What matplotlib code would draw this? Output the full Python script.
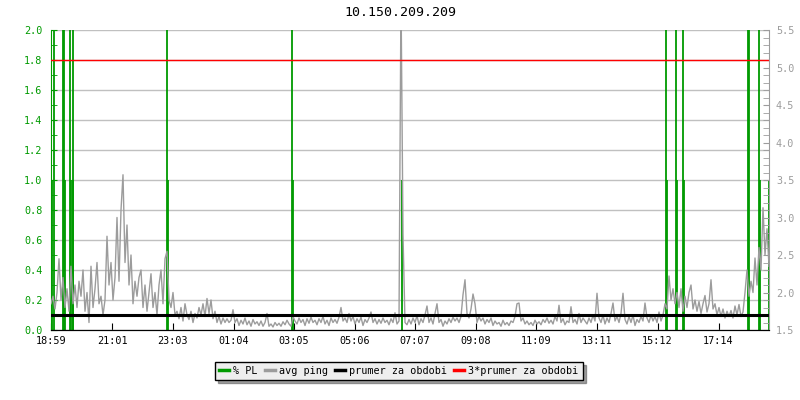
import numpy as np
import matplotlib
matplotlib.use('Agg')
import matplotlib.pyplot as plt
from matplotlib.lines import Line2D

plt.rcParams['font.family'] = ['DejaVu Sans Mono']

title = '10.150.209.209'
tick_labels = ['18:59', '21:01', '23:03', '01:04', '03:05', '05:06',
               '07:07', '09:08', '11:09', '13:11', '15:12', '17:14']
step = 4          # minutes between ping samples
span = 1436       # minutes shown
# avg ping [ms], one value every 4 minutes from 18:59
ping = [1.85, 1.95, 1.78, 2.0, 2.45, 1.9, 2.2, 1.8, 2.05, 1.75,
        2.35, 1.85, 2.1, 1.8, 2.15, 1.95, 2.3, 1.75, 2.0, 1.6,
        2.35, 1.8, 2.05, 2.4, 1.85, 1.95, 1.7, 1.9, 2.75, 2.1,
        2.4, 1.9, 2.2, 3.0, 2.15, 3.1, 3.57, 2.4, 2.9, 2.1,
        2.5, 1.85, 2.15, 1.95, 2.2, 2.3, 1.8, 2.1, 1.75, 2.0,
        2.25, 1.8, 2.0, 1.7, 2.1, 2.3, 1.85, 2.45, 2.55, 1.9,
        1.8, 2.0, 1.7, 1.75, 1.65, 1.8, 1.62, 1.85, 1.7, 1.64,
        1.75, 1.6, 1.72, 1.66, 1.8, 1.7, 1.85, 1.68, 1.92, 1.72,
        1.9, 1.65, 1.75, 1.6, 1.68, 1.58, 1.66, 1.6, 1.65, 1.6,
        1.63, 1.77, 1.6, 1.65, 1.56, 1.63, 1.58, 1.66, 1.57, 1.62,
        1.55, 1.64, 1.58, 1.61, 1.56, 1.62, 1.55, 1.6, 1.72, 1.55,
        1.58, 1.54, 1.6, 1.56, 1.59, 1.55, 1.61, 1.57, 1.63, 1.58,
        1.55, 1.68, 1.62, 1.58, 1.66, 1.6, 1.64, 1.56, 1.65, 1.59,
        1.67, 1.6, 1.63, 1.57, 1.65, 1.6, 1.68, 1.58, 1.63, 1.56,
        1.66, 1.6, 1.64, 1.59, 1.67, 1.8, 1.62, 1.66, 1.6, 1.72,
        1.62, 1.68, 1.58, 1.65, 1.6, 1.67, 1.56, 1.64, 1.6, 1.66,
        1.74, 1.6, 1.65, 1.58, 1.64, 1.59, 1.66, 1.6, 1.63, 1.57,
        1.65, 1.6, 1.73, 1.58, 1.62, 6.0, 2.77, 1.6, 1.57, 1.64,
        1.58, 1.66, 1.6, 1.69, 1.57, 1.65, 1.6, 1.7, 1.82, 1.6,
        1.66, 1.58, 1.72, 1.85, 1.6, 1.64, 1.55, 1.62, 1.58, 1.65,
        1.6, 1.67, 1.62, 1.66, 1.6, 1.68, 1.97, 2.17, 1.72, 1.66,
        1.78, 1.98, 1.85, 1.6, 1.68, 1.62, 1.66, 1.58, 1.64, 1.6,
        1.66, 1.56, 1.62, 1.58, 1.6, 1.55, 1.63, 1.57, 1.6, 1.56,
        1.62, 1.6, 1.68, 1.85, 1.86, 1.62, 1.66, 1.58, 1.62, 1.57,
        1.6, 1.56, 1.63, 1.58, 1.61, 1.57, 1.64, 1.6, 1.66, 1.59,
        1.63, 1.58, 1.68, 1.62, 1.83, 1.6, 1.65, 1.57, 1.62, 1.6,
        1.81, 1.6, 1.64, 1.58, 1.72, 1.6, 1.66, 1.62, 1.58, 1.66,
        1.6, 1.7, 1.62, 1.99, 1.66, 1.6, 1.7, 1.58, 1.66, 1.6,
        1.72, 1.86, 1.62, 1.68, 1.6, 1.72, 1.99, 1.64, 1.58, 1.68,
        1.6, 1.7, 1.56, 1.64, 1.6, 1.68, 1.62, 1.86, 1.66, 1.6,
        1.7, 1.62, 1.68, 1.6, 1.74, 1.62, 1.7, 1.85, 1.78, 2.22,
        1.9, 2.05, 1.85, 2.0, 1.8, 2.05, 1.75, 1.95, 1.8, 2.0,
        2.1, 1.78, 1.9, 1.75, 1.88, 1.72, 1.85, 1.96, 1.74, 1.85,
        2.17, 1.78, 1.85, 1.7, 1.8, 1.68, 1.78, 1.66, 1.75, 1.68,
        1.76, 1.66, 1.82, 1.7, 1.84, 1.68, 1.74, 2.0, 2.3, 1.95,
        2.15, 2.0, 2.46, 2.1, 2.6, 2.3, 3.13, 2.5, 2.85, 2.35]
# packet loss events [minutes from start] and value [%]
pl_times = [1, 6, 23, 25, 27, 37, 39, 43.4, 44.6, 232.6, 234.6, 482.6, 484.6,
            702, 1229, 1231, 1249, 1251, 1263, 1265, 1393, 1395, 1415, 1417, 1435]
pl_values = [1, 3, 3, 3, 1, 3, 1, 1, 3, 3, 1, 3, 1,
             1, 3, 1, 3, 1, 3, 1, 3, 3, 3, 1, 1]
avg_ping = 1.7

green = '#009a00'
grey = '#9c9c9c'

def minutes(lbl):
    h, m = map(int, lbl.split(':'))
    return (h * 60 + m - (18 * 60 + 59)) % 1440

t = np.arange(len(ping)) * step
tick_pos = [minutes(l) for l in tick_labels]

fig = plt.figure(figsize=(8, 4), dpi=100)
ax = fig.add_axes([51/800, 70/400, 718/800, 300/400])
ax2 = ax.twinx()

ax.vlines(pl_times, 0, pl_values, color=green, lw=1.3)
ax.set_xlim(0, span)
ax.set_ylim(0, 2)
ax.set_yticks(np.arange(0, 2.01, 0.2))
ax.set_yticks(np.arange(0, 2.01, 0.1), minor=True)
ax.set_yticklabels(['%.1f' % v for v in np.arange(0, 2.01, 0.2)])
ax.grid(axis='y', color='#c0c0c0', lw=1)
ax.set_axisbelow(True)
ax.tick_params(axis='y', which='both', direction='in', length=4, colors=green,
               labelsize=7.3, pad=6)
ax.set_xticks(tick_pos)
ax.set_xticklabels(tick_labels)
ax.tick_params(axis='x', direction='in', length=5, labelsize=7.3, pad=4)
ax.spines['top'].set_visible(False)
ax.spines['right'].set_visible(False)
ax.spines['left'].set_color(green)

ax2.plot(t, ping, color=grey, lw=1.0)
ax2.axhline(avg_ping, color='black', lw=2.2)
ax2.axhline(3 * avg_ping, color='red', lw=1)
ax2.set_ylim(1.5, 5.5)
ax2.set_yticks(np.arange(1.5, 5.51, 0.5))
ax2.set_yticks(np.arange(1.5, 5.51, 0.1), minor=True)
ax2.tick_params(axis='y', which='both', direction='in', length=4, colors=grey,
                labelsize=7.3, pad=5)
ax2.spines['top'].set_visible(False)
ax2.spines['left'].set_visible(False)
ax2.spines['right'].set_color(grey)

fig.text(0.5, 1 - 13/400, title, ha='center', va='center', fontsize=9.5)

handles = [Line2D([], [], color=green, lw=2.5),
           Line2D([], [], color=grey, lw=2.5),
           Line2D([], [], color='black', lw=2.5),
           Line2D([], [], color='red', lw=2.5)]
labels = ['% PL', 'avg ping', 'prumer za obdobi', '3*prumer za obdobi']
leg = fig.legend(handles, labels, loc='center', bbox_to_anchor=(0.4985, 29/400),
                 ncol=4, frameon=True, fancybox=False, shadow=True, fontsize=7.3,
                 handlelength=1.0, handletextpad=0.4, columnspacing=0.7,
                 borderpad=0.4)
leg.get_frame().set_facecolor('#eeeeee')
leg.get_frame().set_edgecolor('black')
leg.get_frame().set_alpha(1)

fig.savefig('out.png', dpi=100)
